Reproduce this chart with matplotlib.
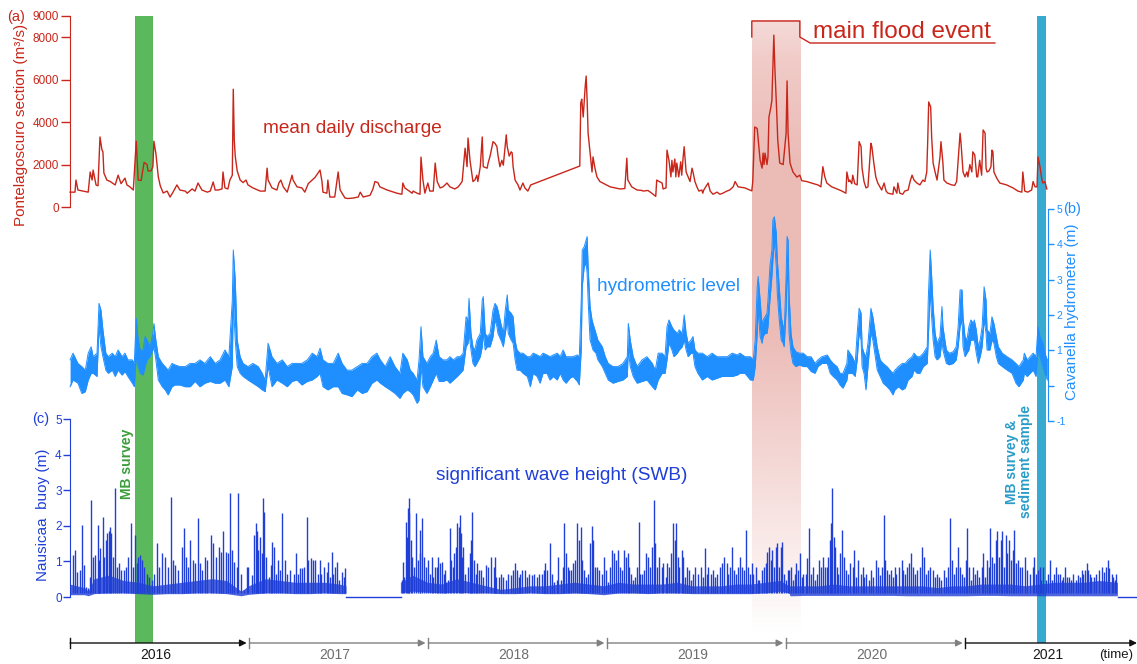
import numpy as np
import matplotlib.pyplot as plt

plt.rcParams['font.family'] = ['Liberation Sans', 'DejaVu Sans']

# time is counted in days from 1 January 2016

# (a) Po river, mean daily discharge at Pontelagoscuro (m3/s)
discharge_day = [
    0, 10, 12, 16, 37, 41, 45, 47, 53, 57, 61, 65, 67, 69, 75, 82, 92, 98, 104, 112,
    116, 122, 129, 135, 139, 145, 151, 157, 159, 165, 169, 171, 175, 180, 184, 190, 198, 204, 210, 218,
    224, 235, 239, 249, 255, 261, 269, 280, 286, 292, 296, 302, 310, 312, 316, 322, 326, 331, 333, 335,
    337, 341, 347, 353, 359, 363, 373, 388, 398, 402, 404, 412, 422, 426, 430, 435, 443, 453, 455, 463,
    473, 479, 486, 494, 500, 506, 510, 514, 516, 524, 526, 530, 540, 547, 551, 561, 567, 577, 588, 592,
    598, 612, 618, 622, 628, 632, 647, 667, 677, 679, 683, 698, 700, 708, 714, 716, 720, 724, 730, 734,
    741, 745, 749, 755, 761, 769, 775, 785, 792, 800, 806, 810, 812, 816, 822, 826, 830, 832, 837, 841,
    843, 851, 853, 857, 863, 867, 871, 873, 877, 881, 884, 890, 892, 896, 900, 902, 904, 908, 914, 918,
    924, 928, 934, 940, 1040, 1042, 1044, 1047, 1051, 1053, 1055, 1057, 1061, 1065, 1067, 1071, 1075, 1081, 1091, 1102,
    1112, 1122, 1132, 1136, 1138, 1146, 1157, 1167, 1169, 1179, 1187, 1195, 1197, 1202, 1208, 1210, 1216, 1218, 1222, 1226,
    1228, 1230, 1234, 1236, 1238, 1242, 1246, 1248, 1251, 1253, 1257, 1261, 1265, 1269, 1271, 1275, 1279, 1283, 1289, 1291,
    1293, 1302, 1306, 1312, 1320, 1326, 1332, 1340, 1346, 1353, 1357, 1363, 1377, 1391, 1393, 1397, 1402, 1408, 1412, 1414,
    1416, 1418, 1422, 1424, 1426, 1430, 1432, 1434, 1436, 1438, 1442, 1444, 1448, 1455, 1461, 1463, 1465, 1469, 1475, 1483,
    1489, 1493, 1503, 1514, 1526, 1532, 1536, 1540, 1544, 1554, 1565, 1575, 1583, 1585, 1589, 1591, 1595, 1597, 1601, 1606,
    1610, 1614, 1616, 1620, 1624, 1628, 1634, 1636, 1640, 1644, 1648, 1656, 1661, 1665, 1669, 1679, 1681, 1687, 1689, 1693,
    1699, 1703, 1710, 1714, 1718, 1722, 1728, 1734, 1740, 1744, 1748, 1750, 1752, 1756, 1758, 1761, 1765, 1769, 1775, 1777,
    1781, 1783, 1789, 1799, 1805, 1809, 1814, 1816, 1818, 1822, 1826, 1830, 1832, 1836, 1840, 1842, 1846, 1850, 1852, 1856,
    1860, 1863, 1867, 1869, 1871, 1875, 1879, 1881, 1883, 1885, 1891, 1897, 1911, 1924, 1934, 1942, 1944, 1948, 1954, 1962,
    1965, 1969, 1973, 1975, 1979, 1983, 1985, 1989, 1993,
]
discharge = [
    700, 700, 1270, 800, 700, 1650, 1270, 1740, 1035, 1000, 3300, 2690, 2600, 1600, 1270, 1200, 1040, 1500, 1100, 1360,
    1040, 950, 800, 3100, 1270, 1250, 2100, 2000, 1700, 1700, 1900, 3100, 2540, 1420, 1000, 660, 750, 470, 700, 1040,
    800, 750, 650, 850, 750, 1130, 800, 700, 750, 1180, 800, 800, 850, 1650, 900, 850, 1270, 1500, 5550, 3150,
    2400, 1700, 1270, 1150, 1270, 1040, 900, 750, 750, 1830, 1270, 900, 800, 1130, 1270, 950, 700, 1500, 1270, 950,
    900, 700, 1100, 1270, 1400, 1600, 1740, 1200, 700, 650, 1270, 470, 470, 1650, 800, 420, 400, 420, 470, 700,
    470, 550, 850, 1200, 1150, 950, 800, 650, 600, 1130, 900, 650, 750, 650, 600, 2350, 1270, 650, 1130, 750,
    750, 2070, 1200, 900, 950, 1130, 950, 850, 950, 1200, 2770, 1900, 3250, 2200, 1200, 1270, 1500, 1200, 1900, 3300,
    1900, 1830, 2070, 2400, 3080, 3000, 2840, 2450, 1900, 2200, 1970, 3400, 2840, 2400, 2600, 2550, 1900, 1270, 1040, 800,
    1130, 900, 750, 1040, 1930, 4900, 5080, 4240, 5650, 6170, 5040, 3480, 2540, 1650, 2360, 1830, 1420, 1200, 1080, 950,
    900, 850, 870, 2300, 1270, 950, 800, 780, 750, 780, 650, 500, 1270, 1200, 1130, 850, 900, 2680, 2200, 1420,
    2200, 1650, 2260, 1420, 2070, 1420, 2130, 1500, 2360, 2840, 1650, 1420, 1200, 1830, 1650, 1200, 950, 750, 800, 650,
    800, 1130, 750, 600, 700, 600, 650, 750, 800, 950, 1200, 950, 900, 760, 1200, 3770, 3700, 2200, 1830, 2540,
    2000, 2540, 2000, 2360, 4240, 4710, 5030, 6600, 8100, 6600, 4400, 3150, 2070, 2000, 3480, 5940, 3480, 2070, 1650, 1410,
    1500, 1240, 1200, 1120, 1040, 950, 1900, 1420, 1130, 950, 850, 750, 650, 1650, 1200, 1270, 1100, 1500, 1100, 1040,
    3080, 2840, 1830, 1200, 900, 950, 3000, 2840, 2070, 1420, 1130, 800, 1130, 750, 650, 600, 950, 650, 1130, 650,
    600, 750, 800, 1200, 1500, 1270, 1130, 1040, 1270, 1200, 1650, 3150, 4950, 4710, 3300, 2070, 1650, 1270, 2360, 3080,
    2070, 1270, 1130, 1040, 1020, 1200, 2840, 3480, 3000, 1650, 1420, 1650, 1420, 2000, 1650, 2600, 2450, 1420, 1420, 2200,
    1500, 3630, 3480, 1830, 1650, 1700, 1900, 2680, 2600, 1650, 1350, 1130, 1040, 900, 750, 700, 1650, 750, 700, 800,
    1200, 950, 950, 2360, 1900, 1270, 1130, 1200, 850,
]

# (b) hydrometric level at Cavanella (m): lower and upper edge of the hourly trace
level_day = [
    0, 6, 16, 24, 31, 37, 43, 47, 55, 59, 63, 67, 73, 78, 86, 92, 98, 106, 112, 118,
    127, 131, 135, 139, 143, 149, 153, 157, 163, 169, 171, 175, 180, 188, 194, 200, 208, 214, 224, 235,
    245, 255, 265, 275, 286, 296, 306, 316, 324, 331, 333, 337, 341, 347, 353, 363, 373, 384, 392, 398,
    404, 412, 422, 433, 443, 453, 463, 473, 484, 494, 504, 510, 516, 526, 537, 547, 555, 565, 575, 586,
    596, 606, 616, 626, 633, 643, 653, 663, 673, 679, 688, 694, 700, 708, 712, 716, 720, 728, 735, 741,
    747, 753, 761, 769, 775, 782, 790, 796, 802, 808, 812, 814, 818, 822, 826, 830, 837, 841, 843, 847,
    851, 857, 863, 867, 871, 873, 879, 884, 888, 892, 894, 900, 904, 908, 912, 918, 924, 933, 939, 945,
    953, 959, 965, 973, 979, 986, 994, 1000, 1006, 1012, 1020, 1026, 1035, 1039, 1043, 1045, 1049, 1053, 1055, 1057,
    1061, 1065, 1067, 1073, 1077, 1086, 1092, 1098, 1108, 1118, 1128, 1137, 1139, 1143, 1149, 1157, 1167, 1177, 1188, 1194,
    1200, 1208, 1214, 1218, 1222, 1228, 1232, 1239, 1243, 1249, 1253, 1257, 1261, 1267, 1271, 1275, 1281, 1290, 1300, 1310,
    1320, 1330, 1341, 1351, 1361, 1367, 1377, 1388, 1394, 1398, 1402, 1404, 1408, 1412, 1414, 1418, 1422, 1424, 1428, 1432,
    1434, 1437, 1441, 1443, 1447, 1451, 1455, 1457, 1461, 1463, 1465, 1467, 1471, 1475, 1481, 1488, 1496, 1504, 1512, 1520,
    1526, 1534, 1545, 1551, 1557, 1565, 1571, 1577, 1585, 1587, 1596, 1602, 1606, 1610, 1614, 1616, 1620, 1624, 1628, 1634,
    1638, 1643, 1647, 1653, 1659, 1667, 1673, 1679, 1683, 1690, 1698, 1704, 1710, 1718, 1722, 1728, 1734, 1741, 1749, 1751,
    1755, 1757, 1761, 1765, 1769, 1775, 1779, 1781, 1788, 1794, 1802, 1808, 1812, 1816, 1820, 1822, 1826, 1830, 1834, 1838,
    1843, 1845, 1849, 1853, 1857, 1861, 1865, 1869, 1871, 1877, 1881, 1885, 1890, 1894, 1902, 1912, 1922, 1930, 1936, 1945,
    1947, 1953, 1959, 1965, 1971, 1975, 1979, 1985, 1989, 1994,
]
level_low = [
    -0.03, 0.16, 0.07, -0.22, -0.17, 0.16, 0.35, 0.35, 0.26, 1.67, 1.10, 0.82, 0.44, 0.35, 0.44, 0.26, 0.44, 0.30, 0.40, 0.26,
    0.07, -0.03, 0.82, 0.54, 0.35, 0.30, 0.54, 0.73, 0.82, 1.01, 1.10, 0.73, 0.16, -0.03, -0.12, -0.26, -0.03, 0.02, 0.02, -0.03,
    -0.03, 0.12, -0.03, 0.07, 0.12, 0.07, 0.07, 0.16, -0.03, 0.54, 2.42, 1.29, 0.54, 0.35, 0.26, 0.16, 0.07, -0.03, -0.12, -0.17,
    0.54, -0.03, 0.16, 0.07, -0.03, 0.12, 0.16, 0.02, 0.12, 0.16, 0.26, 0.35, -0.03, -0.12, -0.03, -0.03, -0.22, -0.26, -0.31, -0.12,
    -0.22, -0.17, 0.07, 0.16, 0.07, -0.03, -0.12, -0.22, -0.36, -0.22, -0.12, -0.17, -0.26, -0.50, -0.41, 0.54, -0.03, -0.22, -0.03, 0.16,
    0.35, 0.12, 0.12, 0.16, 0.07, 0.16, 0.26, 0.35, 0.44, 1.10, 1.20, 1.48, 1.01, 0.63, 0.54, 0.63, 0.82, 1.10, 1.48, 1.01,
    1.10, 1.10, 1.39, 1.86, 1.67, 1.48, 1.29, 1.10, 1.48, 1.86, 1.48, 1.29, 1.20, 0.73, 0.44, 0.44, 0.35, 0.26, -0.03, 0.35,
    0.26, 0.07, 0.35, 0.35, 0.16, 0.26, 0.16, 0.35, 0.16, 0.07, 0.21, 0.26, 0.12, 0.02, 1.01, 2.80, 3.37, 3.46, 3.18, 2.42,
    1.29, 1.10, 1.01, 0.92, 0.73, 0.54, 0.35, 0.16, 0.07, 0.12, 0.16, 0.26, 1.01, 0.54, 0.26, 0.07, 0.12, 0.16, -0.03, -0.12,
    0.16, 0.35, 0.35, 0.73, 1.20, 1.01, 0.82, 0.92, 1.01, 1.10, 1.29, 1.01, 0.82, 0.92, 0.92, 0.54, 0.35, 0.16, 0.26, 0.16,
    0.21, 0.26, 0.26, 0.26, 0.30, 0.35, 0.35, 0.16, 0.16, 0.54, 1.48, 2.14, 1.39, 1.20, 1.39, 1.48, 1.48, 1.67, 2.42, 3.09,
    3.56, 4.12, 3.37, 2.61, 1.86, 1.29, 1.20, 1.10, 2.14, 3.37, 2.80, 1.48, 0.92, 0.63, 0.54, 0.59, 0.54, 0.54, 0.40, 0.35,
    0.54, 0.63, 0.63, 0.35, 0.26, 0.16, 0.02, -0.07, 0.16, 0.35, 0.35, 0.26, 0.73, 1.48, 1.29, 0.54, 0.35, -0.12, 0.54, 1.48,
    1.29, 0.82, 0.44, 0.26, 0.07, -0.03, -0.12, -0.26, -0.12, -0.03, -0.12, -0.07, 0.16, 0.26, 0.44, 0.35, 0.35, 0.54, 0.63, 1.29,
    2.71, 2.14, 1.29, 0.82, 0.73, 0.82, 1.29, 1.01, 0.63, 0.59, 0.63, 0.73, 1.10, 1.67, 1.86, 1.10, 0.82, 0.92, 1.01, 1.29,
    1.29, 1.29, 0.92, 0.63, 0.82, 1.10, 1.86, 1.48, 1.01, 1.01, 1.29, 1.20, 0.82, 0.63, 0.54, 0.44, 0.35, 0.07, -0.03, 0.16,
    0.35, 0.26, 0.35, 0.44, 0.26, 1.01, 0.82, 0.54, 0.35, 0.16,
]
level_high = [
    0.73, 0.92, 0.63, 0.54, 0.44, 0.92, 1.10, 0.82, 0.92, 2.33, 2.14, 1.58, 0.92, 0.82, 0.92, 0.82, 1.01, 0.82, 0.92, 0.73,
    0.73, 0.63, 1.91, 1.29, 1.01, 1.01, 1.39, 1.29, 1.10, 1.48, 1.76, 1.29, 0.82, 0.63, 0.54, 0.44, 0.63, 0.59, 0.54, 0.54,
    0.63, 0.63, 0.73, 0.63, 0.82, 0.63, 0.73, 1.01, 0.82, 2.42, 3.84, 2.99, 1.29, 0.82, 0.63, 0.54, 0.63, 0.54, 0.35, 0.16,
    1.20, 0.82, 0.63, 0.73, 0.54, 0.63, 0.63, 0.63, 0.73, 0.92, 0.82, 1.06, 0.73, 0.63, 0.63, 0.92, 0.63, 0.44, 0.44, 0.54,
    0.63, 0.63, 0.82, 0.92, 0.73, 0.54, 0.82, 0.54, 0.35, 0.92, 0.73, 0.44, 0.35, 0.16, 0.73, 1.67, 0.82, 0.63, 0.82, 0.92,
    1.29, 0.82, 0.73, 0.73, 0.82, 0.73, 0.82, 0.82, 0.92, 1.95, 1.86, 2.47, 1.48, 1.10, 1.01, 1.29, 1.48, 2.42, 2.52, 1.48,
    1.39, 1.48, 2.14, 2.33, 2.24, 2.14, 1.76, 1.48, 2.14, 2.57, 2.14, 2.05, 1.95, 1.29, 1.01, 0.92, 0.92, 0.82, 0.82, 0.92,
    0.87, 0.82, 0.92, 0.87, 0.82, 0.87, 0.92, 0.82, 1.01, 0.82, 0.82, 0.82, 0.87, 0.82, 2.42, 3.84, 3.93, 4.12, 4.22, 3.37,
    2.24, 1.86, 1.76, 1.48, 1.29, 1.10, 0.82, 0.63, 0.54, 0.54, 0.63, 0.82, 1.76, 1.29, 0.82, 0.54, 0.73, 0.82, 0.63, 0.44,
    0.92, 0.92, 0.82, 1.67, 1.86, 1.67, 1.58, 1.48, 1.58, 1.48, 2.00, 1.48, 1.20, 1.29, 1.39, 1.01, 0.92, 0.92, 0.82, 0.92,
    0.82, 0.82, 0.82, 0.92, 0.87, 0.92, 0.82, 0.82, 0.73, 1.29, 2.80, 3.09, 2.42, 1.67, 1.86, 1.95, 2.05, 2.42, 3.37, 3.84,
    4.69, 4.78, 4.31, 3.56, 2.80, 1.95, 1.67, 1.48, 3.09, 4.22, 4.12, 2.61, 1.48, 1.10, 0.96, 0.92, 0.92, 0.82, 0.82, 0.63,
    0.73, 0.82, 0.87, 0.73, 0.63, 0.54, 0.35, 0.35, 0.63, 1.01, 0.82, 0.63, 1.48, 2.19, 2.05, 1.10, 0.92, 0.82, 1.20, 2.19,
    1.95, 1.48, 1.10, 0.73, 0.63, 0.54, 0.44, 0.35, 0.44, 0.54, 0.63, 0.63, 0.73, 0.82, 0.92, 0.82, 0.82, 0.92, 1.10, 2.42,
    3.84, 3.37, 2.24, 1.48, 1.20, 1.39, 2.24, 1.67, 1.01, 0.92, 0.96, 1.10, 1.67, 2.71, 2.71, 1.95, 1.39, 1.29, 1.67, 1.86,
    1.76, 1.86, 1.58, 1.10, 1.29, 1.67, 2.80, 2.42, 1.58, 1.48, 1.95, 1.76, 1.39, 1.10, 0.92, 0.82, 0.73, 0.63, 0.54, 0.73,
    0.92, 0.73, 0.82, 0.92, 0.82, 1.67, 1.39, 1.20, 0.92, 0.73,
]

# (c) significant wave height at the Nausicaa buoy (m): storm peaks
wave_day = [
    5, 10, 15, 20, 25, 29, 33, 37, 41, 43, 46, 51, 56, 59, 61, 67, 70, 73, 76, 79,
    82, 84, 87, 92, 95, 99, 103, 109, 114, 119, 124, 128, 132, 136, 139, 143, 146, 150, 156, 162,
    167, 171, 177, 182, 188, 194, 199, 205, 209, 214, 221, 228, 233, 237, 240, 245, 250, 255, 260, 265,
    270, 275, 279, 287, 292, 297, 303, 308, 313, 318, 323, 326, 331, 335, 340, 343, 348, 354, 360, 364,
    371, 375, 379, 382, 384, 388, 391, 394, 396, 400, 405, 409, 413, 416, 420, 425, 428, 433, 439, 443,
    449, 456, 461, 466, 469, 473, 477, 483, 486, 491, 495, 500, 505, 509, 513, 518, 524, 527, 530, 534,
    537, 541, 545, 549, 554, 558, 561,
    677, 679, 681, 685, 688, 690, 691, 692, 695, 698, 702, 706, 709, 713, 715, 719, 722, 726, 730, 734,
    738, 741, 745, 748, 751, 755, 758, 762, 765, 768, 772, 775, 778, 781, 783, 787, 790, 793, 795, 797,
    799, 802, 806, 811, 816, 819, 821, 824, 828, 831, 835, 838, 843, 849, 853, 859, 864, 867, 870, 875,
    879, 884, 889, 894, 899, 904, 908, 911, 915, 918, 923, 929, 933, 937, 942, 947, 952, 957, 962, 966,
    970, 974, 979, 983, 987, 993, 996, 1001, 1005, 1008, 1011, 1015, 1019, 1022, 1027, 1031, 1035, 1038, 1042, 1045,
    1049, 1053, 1057, 1061, 1064, 1068, 1071, 1076, 1079, 1085, 1089, 1093, 1098, 1102, 1106, 1110, 1113, 1117, 1122, 1127,
    1130, 1134, 1138, 1141, 1144, 1148, 1153, 1157, 1160, 1163, 1167, 1171, 1176, 1180, 1183, 1187, 1191, 1194, 1198, 1202,
    1207, 1210, 1215, 1219, 1223, 1227, 1231, 1234, 1236, 1240, 1243, 1248, 1251, 1255, 1258, 1263, 1267, 1272, 1276, 1282,
    1287, 1291, 1295, 1299, 1302, 1307, 1311, 1316, 1321, 1326, 1331, 1335, 1340, 1343, 1346, 1351, 1355, 1359, 1363, 1367,
    1370, 1375, 1380, 1384, 1387, 1391, 1394, 1399, 1404,
    1406, 1411, 1416, 1420, 1423, 1427, 1430, 1433, 1437, 1440, 1443, 1446, 1450, 1453, 1457, 1461, 1464, 1467,
    1472, 1476, 1479, 1482, 1486, 1489, 1493, 1496, 1501, 1504, 1508, 1511, 1515, 1520, 1525, 1529, 1533, 1537, 1540, 1544,
    1547, 1550, 1553, 1555, 1558, 1561, 1564, 1567, 1572, 1575, 1579, 1583, 1588, 1591, 1597, 1599, 1603, 1608, 1613, 1617,
    1620, 1625, 1631, 1635, 1639, 1644, 1648, 1652, 1656, 1660, 1663, 1666, 1671, 1676, 1680, 1683, 1686, 1692, 1697, 1700,
    1703, 1708, 1712, 1716, 1720, 1725, 1729, 1734, 1739, 1742, 1746, 1751, 1754, 1760, 1765, 1768, 1773, 1778, 1783, 1788,
    1792, 1796, 1799, 1803, 1807, 1812, 1816, 1819, 1824, 1828, 1831, 1835, 1839, 1843, 1846, 1851, 1855, 1860, 1863, 1867,
    1870, 1874, 1878, 1882, 1885, 1889, 1892, 1896, 1899, 1902, 1905, 1909, 1912, 1916, 1919, 1923, 1926, 1930, 1935, 1939,
    1943, 1948, 1953, 1958, 1964, 1967, 1971, 1975, 1979, 1982, 1986, 1991, 1996, 1999, 2003, 2007, 2011, 2015, 2020, 2023,
    2026, 2030, 2035, 2039, 2043, 2047, 2052, 2056, 2060, 2064, 2067, 2071, 2074, 2077, 2081, 2084, 2089, 2094, 2100, 2105,
    2109, 2113, 2117, 2120, 2125, 2128, 2132, 2135,
]
wave_peak = [
    1.18, 1.32, 0.71, 0.76, 2.02, 0.90, 0.29, 0.24, 0.57, 2.72, 1.13, 1.18, 2.02, 1.04, 1.37, 2.26, 1.13, 1.60, 1.79, 1.84,
    1.98, 1.81, 1.13, 3.05, 0.85, 0.95, 0.76, 0.76, 0.85, 1.13, 2.07, 0.85, 1.74, 0.95, 1.13, 1.18, 1.04, 0.85, 0.66, 0.57,
    0.48, 0.66, 1.51, 0.85, 1.23, 1.13, 0.85, 2.82, 1.04, 0.90, 0.76, 1.41, 1.93, 1.13, 0.85, 1.60, 1.04, 0.95, 2.21, 0.95,
    0.76, 1.13, 1.04, 1.74, 1.51, 1.13, 1.41, 1.27, 1.84, 1.27, 1.23, 2.91, 1.32, 0.99, 0.85, 2.91, 0.66, 0.20, 0.85, 0.85,
    0.62, 1.74, 2.07, 1.84, 1.32, 1.69, 1.23, 2.77, 2.40, 1.13, 0.57, 0.90, 1.55, 1.41, 0.66, 1.04, 0.76, 2.37, 1.04, 0.66,
    0.76, 0.66, 1.23, 0.66, 0.81, 0.81, 0.85, 2.26, 1.04, 1.09, 1.04, 1.04, 0.66, 1.04, 0.66, 0.85, 0.71, 0.99, 0.57, 1.27,
    0.66, 0.85, 0.99, 0.48, 0.71, 0.57, 0.81,
    0.48, 0.99, 0.57, 2.12, 1.69, 2.49, 2.78, 2.35, 1.60, 1.13, 0.85, 2.35, 1.04, 1.88, 1.23, 2.21, 1.13, 0.85, 1.04, 0.66,
    1.13, 0.57, 0.85, 0.85, 1.13, 0.95, 0.99, 0.66, 0.76, 0.43, 0.48, 1.93, 1.04, 0.85, 1.23, 1.41, 2.07, 1.98, 2.30, 1.79,
    1.13, 1.41, 0.66, 0.85, 1.23, 1.60, 2.40, 1.04, 0.66, 0.95, 0.76, 0.76, 0.57, 0.90, 0.85, 1.13, 0.85, 1.13, 0.57, 0.57,
    0.66, 0.57, 0.48, 0.66, 0.62, 0.76, 0.95, 0.76, 0.57, 0.66, 0.76, 0.76, 0.57, 0.66, 0.62, 0.66, 0.57, 0.66, 0.66, 0.76,
    0.95, 0.76, 1.51, 0.66, 0.43, 0.48, 1.13, 0.48, 0.85, 2.07, 1.23, 0.85, 0.76, 0.76, 0.95, 1.04, 2.07, 1.60, 1.98, 1.04,
    0.76, 0.57, 0.66, 1.51, 1.99, 1.60, 0.85, 0.85, 0.76, 0.66, 1.13, 0.76, 0.43, 0.85, 1.32, 1.23, 1.04, 1.32, 0.85, 0.76,
    1.32, 1.13, 1.23, 0.85, 0.66, 0.48, 0.57, 0.85, 2.12, 0.66, 0.66, 0.76, 1.23, 1.13, 0.85, 1.41, 2.72, 1.51, 0.85, 1.13,
    0.85, 0.95, 0.57, 0.95, 0.85, 1.23, 2.07, 1.60, 2.07, 1.13, 0.85, 1.32, 1.13, 0.57, 0.85, 0.76, 0.48, 0.66, 0.85, 0.66,
    0.85, 0.57, 1.37, 0.66, 0.85, 0.66, 0.76, 0.57, 0.66, 0.85, 0.95, 1.13, 0.95, 0.66, 0.85, 1.41, 0.76, 0.66, 0.85, 1.13,
    0.85, 0.76, 1.88, 0.85, 0.66, 0.95, 0.66, 0.85, 0.48,
    0.48, 0.76, 0.85, 0.95, 1.27, 1.41, 1.04, 1.32, 0.85, 1.41, 1.53, 0.85, 1.41, 1.55, 0.66, 0.48, 0.76, 0.76,
    0.85, 0.48, 0.66, 0.95, 0.76, 1.23, 0.57, 0.66, 0.66, 1.09, 1.93, 0.66, 0.85, 0.48, 0.66, 1.04, 0.85, 1.13, 0.85, 0.85,
    1.13, 1.60, 2.07, 3.05, 1.69, 1.41, 0.85, 0.66, 1.23, 1.88, 1.13, 0.76, 0.66, 0.95, 0.85, 1.32, 0.57, 1.04, 0.66, 0.85,
    0.57, 0.66, 0.48, 0.76, 0.57, 1.04, 0.85, 0.62, 0.85, 2.30, 1.04, 0.76, 0.66, 0.76, 0.57, 0.85, 0.66, 0.85, 1.04, 0.76,
    0.66, 0.85, 0.95, 1.23, 0.85, 0.66, 0.76, 0.85, 1.41, 1.13, 0.66, 0.76, 0.85, 0.76, 0.57, 0.66, 0.57, 0.48, 0.76, 0.57,
    0.85, 2.21, 1.04, 0.66, 0.85, 1.41, 0.85, 0.66, 0.57, 1.04, 1.93, 0.85, 0.48, 0.85, 0.66, 0.76, 0.57, 0.85, 1.23, 0.57,
    1.04, 0.85, 1.93, 1.13, 0.95, 1.60, 1.84, 1.13, 1.60, 1.84, 0.85, 1.74, 1.23, 1.60, 1.04, 1.32, 1.88, 0.95, 1.04, 0.85,
    0.85, 1.13, 0.76, 0.66, 0.85, 1.13, 0.66, 0.76, 0.85, 0.48, 0.85, 0.48, 0.66, 1.04, 0.48, 0.66, 0.85, 0.66, 0.66, 0.48,
    0.57, 0.85, 0.57, 0.57, 0.48, 0.66, 0.48, 0.62, 0.57, 0.76, 0.66, 0.76, 0.95, 0.76, 0.66, 0.57, 0.57, 0.66, 0.76, 0.85,
    0.71, 0.85, 1.04, 0.81, 0.66, 0.57, 0.48, 0.66,
]

# dense part of the wave record (m), lower and upper edge
wave_band_day = [
    0, 30, 38, 50, 80, 110, 140, 170, 200, 230, 260, 290, 320, 350, 365, 400, 430, 460, 490, 520,
    550, 564, np.nan, 675, 700, 730, 760, 790, 820, 850, 880, 910, 940, 970, 1000, 1030, 1060, 1090, 1120, 1150,
    1180, 1210, 1240, 1270, 1300, 1330, 1360, 1390, 1420, 1450, 1468, 1470, 1500, 1530, 1560, 1590, 1620, 1650, 1680, 1710,
    1740, 1770, 1800, 1830, 1860, 1890, 1920, 1950, 1980, 2010, 2040, 2070, 2100, 2138,
]
wave_band_low = [
    0.05, 0.05, 0.02, 0.08, 0.10, 0.10, 0.08, 0.06, 0.08, 0.08, 0.10, 0.10, 0.08, 0.02, 0.06, 0.10, 0.10, 0.08, 0.08, 0.10,
    0.08, 0.08, np.nan, 0.10, 0.15, 0.12, 0.10, 0.12, 0.10, 0.10, 0.08, 0.08, 0.10, 0.08, 0.08, 0.10, 0.08, 0.05, 0.10, 0.10,
    0.08, 0.10, 0.10, 0.08, 0.08, 0.08, 0.08, 0.08, 0.10, 0.15, 0.10, 0.02, 0.03, 0.03, 0.03, 0.03, 0.03, 0.03, 0.03, 0.02,
    0.02, 0.02, 0.02, 0.02, 0.03, 0.03, 0.02, 0.02, 0.02, 0.02, 0.02, 0.02, 0.02, 0.02,
]
wave_band_high = [
    0.35, 0.25, 0.15, 0.50, 0.60, 0.45, 0.40, 0.30, 0.35, 0.40, 0.45, 0.50, 0.45, 0.15, 0.30, 0.50, 0.45, 0.40, 0.40, 0.40,
    0.35, 0.30, np.nan, 0.40, 0.60, 0.40, 0.35, 0.50, 0.40, 0.30, 0.20, 0.25, 0.30, 0.30, 0.35, 0.40, 0.35, 0.30, 0.40, 0.35,
    0.35, 0.35, 0.40, 0.30, 0.30, 0.30, 0.35, 0.35, 0.40, 0.45, 0.30, 0.30, 0.30, 0.30, 0.35, 0.30, 0.30, 0.30, 0.30, 0.30,
    0.30, 0.25, 0.30, 0.30, 0.35, 0.35, 0.35, 0.30, 0.35, 0.40, 0.40, 0.40, 0.45, 0.40,
]
buoy_off = [(564, 675), (2138, 2177)]

year_start = [0, 366, 731, 1096, 1461, 1827]
year_label = ['2016', '2017', '2018', '2019', '2020', '2021']

survey_2016 = (133, 169)
survey_2021 = (1973, 1991)
flood = (1391, 1489)

RED = '#c8261a'
LEVEL = '#1f8fff'
WAVE = '#1f3fd6'
GREEN = '#5cb85c'
CYAN = '#38a9d1'

W, H = 1137, 664
XLIM = (-143, 2177)

fig = plt.figure(figsize=(W / 100, H / 100), dpi=100)


def fpos(x, y):
    return x / W, 1 - y / H


# background layer: survey windows, flood window, time line
bg = fig.add_axes([0, 0, 1, 1])
bg.axis('off')

bg.axvspan(*survey_2016, ymin=1 - 643 / H, ymax=1 - 16 / H, color=GREEN, lw=0)
bg.axvspan(*survey_2021, ymin=1 - 643 / H, ymax=1 - 16 / H, color=CYAN, lw=0)

rows = np.arange(20, 636)
alpha = np.interp(rows, [20, 60, 160, 330, 430, 635], [0.25, 0.36, 0.47, 0.47, 0.32, 0.0])
shade = np.zeros((len(rows), 1, 4))
shade[..., :3] = np.array([214, 110, 100]) / 255
shade[..., 3] = alpha[:, None]
bg.imshow(shade, extent=(flood[0], flood[1], 635, 20), aspect='auto', interpolation='bilinear')

bg.plot([flood[0], flood[0], flood[1], flood[1], 1510, 1887], [37, 21, 21, 37, 43, 43], color=RED, lw=1)
bg.text(1516, 37.5, 'main flood event', color=RED, fontsize=17.5, ha='left', va='baseline')

bg.text(394, 133, 'mean daily discharge', color=RED, fontsize=13.7, va='baseline')
bg.text(1075, 291, 'hydrometric level', color=LEVEL, fontsize=13.7, va='baseline')
bg.text(747, 480, 'significant wave height (SWB)', color=WAVE, fontsize=13.7, va='baseline')

TL = 643
seg_end = year_start[1:] + [XLIM[1]]
for i, (s, e) in enumerate(zip(year_start, seg_end)):
    c = '#111111' if i in (0, len(year_start) - 1) else '#808080'
    tc = '#1a1a1a' if i in (0, len(year_start) - 1) else '#6e6e6e'
    bg.annotate('', xy=(e, TL), xytext=(s, TL),
                arrowprops=dict(arrowstyle='-|>', color=c, lw=1, mutation_scale=10,
                                shrinkA=0, shrinkB=2 if e != XLIM[1] else 0))
    bg.plot([s, s], [TL - 5, TL + 5], color=c, lw=1)
    bg.text((s + e) / 2 - 8, 655, year_label[i], color=tc, fontsize=10, ha='center', va='center')

bg.set_xlim(XLIM)
bg.set_ylim(H, 0)


def panel(top, bottom, ylim):
    ax = fig.add_axes([0, 1 - bottom / H, 1, (bottom - top) / H])
    ax.set_xlim(XLIM)
    ax.set_ylim(*ylim)
    ax.patch.set_visible(False)
    for side in ['top', 'bottom', 'left', 'right']:
        ax.spines[side].set_visible(False)
    ax.set_xticks([])
    return ax


# (a) discharge
ax_a = panel(16, 207, (0, 9000))
ax_a.plot(discharge_day, discharge, color=RED, lw=1.0)
ax_a.spines['left'].set_visible(True)
ax_a.spines['left'].set_position(('data', 0))
ax_a.spines['left'].set_color(RED)
ax_a.set_yticks([0, 2000, 4000, 6000, 8000, 9000])
ax_a.tick_params(axis='y', colors=RED, labelsize=8.5, length=6.5, width=1, pad=1.5)

# (b) hydrometric level
ax_b = panel(209, 421, (-1, 5))
ax_b.fill_between(level_day, level_low, level_high, color=LEVEL, lw=0)
ax_b.plot(level_day, level_low, color=LEVEL, lw=0.7)
ax_b.plot(level_day, level_high, color=LEVEL, lw=0.7)
ax_b.yaxis.tick_right()
ax_b.spines['right'].set_visible(True)
ax_b.spines['right'].set_position(('data', 1996))
ax_b.spines['right'].set_color(LEVEL)
ax_b.set_yticks([-1, 0, 1, 2, 3, 4, 5])
ax_b.set_yticklabels(['-1', '', '1', '2', '3', '4', '5'])
ax_b.tick_params(axis='y', colors=LEVEL, labelsize=7.5, length=4.5, width=1, pad=1.5)

# (c) significant wave height
ax_c = panel(419, 597, (0, 5))
ax_c.fill_between(wave_band_day, wave_band_low, wave_band_high, color=WAVE, lw=0, alpha=0.8)
ax_c.vlines(wave_day, 0.1, wave_peak, color=WAVE, lw=1.0)
for s, e in buoy_off:
    ax_c.plot([s, e], [0, 0], color=WAVE, lw=1, clip_on=False)
ax_c.spines['left'].set_visible(True)
ax_c.spines['left'].set_position(('data', 0))
ax_c.spines['left'].set_color(WAVE)
ax_c.set_yticks([0, 1, 2, 3, 4, 5])
ax_c.tick_params(axis='y', colors=WAVE, labelsize=8.5, length=5, width=1, pad=1)

# axis titles and panel letters
fig.text(*fpos(21, 125), 'Pontelagoscuro section (m³/s)', color=RED, fontsize=11,
         rotation=90, ha='center', va='center')
fig.text(*fpos(1072, 312), 'Cavanella hydrometer (m)', color=LEVEL, fontsize=11,
         rotation=90, ha='center', va='center')
fig.text(*fpos(43, 515), 'Nausicaa  buoy (m)', color=WAVE, fontsize=11,
         rotation=90, ha='center', va='center')
fig.text(*fpos(7, 21), '(a)', color=RED, fontsize=10.5, ha='left', va='baseline')
fig.text(*fpos(1063, 213), '(b)', color=LEVEL, fontsize=10.5, ha='left', va='baseline')
fig.text(*fpos(32, 423), '(c)', color=WAVE, fontsize=10.5, ha='left', va='baseline')

fig.text(*fpos(127, 464), 'MB survey', color='#3a9e3a', fontsize=10, fontweight='bold',
         rotation=90, ha='center', va='center')
fig.text(*fpos(1019, 462), 'MB survey &\nsediment sample', color='#2a9cc8', fontsize=10,
         fontweight='bold', rotation=90, ha='center', va='center', multialignment='center',
         linespacing=0.95)
fig.text(*fpos(1116, 655), '(time)', color='#1a1a1a', fontsize=9.5, ha='center', va='center')

fig.savefig('out.png', dpi=100)
